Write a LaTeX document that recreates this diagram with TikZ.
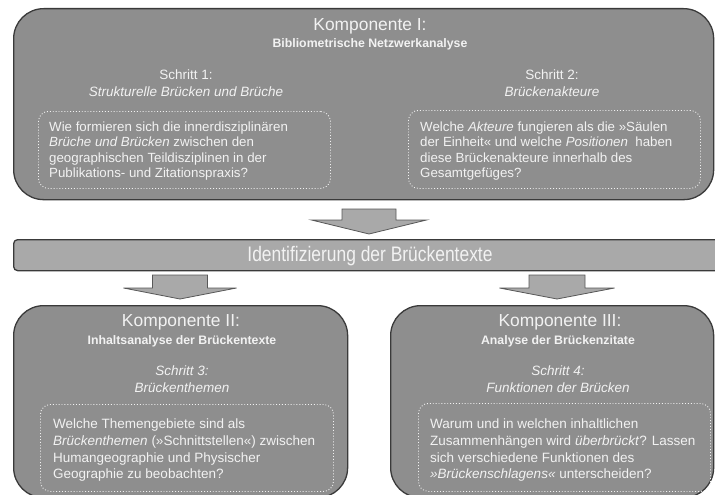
\documentclass[tikz,border=0pt]{standalone}
\usepackage{fontspec}
\setmainfont{Liberation Sans}
\newfontfamily\narrowfont[FakeStretch=0.83]{Liberation Sans}
\definecolor{boxgray}{HTML}{8E8E8E}
\definecolor{bargray}{HTML}{A9A9A9}
\definecolor{edgecol}{HTML}{3A3A3A}
\definecolor{txtcol}{HTML}{F2F2F2}
\newcommand{\blockarr}[6]{%
  \draw[blockarrow] ({#1-#2},#4) -- ({#1+#2},#4) -- ({#1+#2},#5) -- ({#1+#3},#5)
    -- (#1,#6) -- ({#1-#3},#5) -- ({#1-#2},#5) -- cycle;}
\tikzset{
  bigbox/.style={draw=edgecol, line width=1.3pt, fill=boxgray, rounded corners=30pt,
    inner sep=0pt, anchor=north west},
  barbox/.style={draw=edgecol, line width=1.3pt, fill=bargray, rounded corners=4pt,
    inner sep=0pt, anchor=north west},
  dotbox/.style={draw=txtcol, dotted, line width=0.9pt, rounded corners=10pt,
    inner sep=0pt, anchor=north west},
  blockarrow/.style={draw=edgecol!85, line width=0.8pt, fill=bargray, line join=miter},
  ttl/.style={text=txtcol, font=\fontsize{17.4}{20}\selectfont, anchor=base, inner sep=0pt},
  subttl/.style={text=txtcol, font=\bfseries\fontsize{12.3}{14}\selectfont, anchor=base, inner sep=0pt},
  stp/.style={text=txtcol, font=\fontsize{13.5}{16}\selectfont, anchor=base, inner sep=0pt},
  bodytop/.style={text=txtcol, font=\fontsize{13.3}{15.4}\selectfont, align=left,
    anchor=north west, inner sep=0pt},
  bodybot/.style={text=txtcol, font=\fontsize{13.5}{16.8}\selectfont, align=left,
    anchor=north west, inner sep=0pt},
}
\begin{document}
\begin{tikzpicture}[x=1pt,y=-1pt]
\useasboundingbox (0,0) rectangle (715,495);
% boxes
\node[bigbox, minimum width=700pt, minimum height=191pt] (k1) at (13,8) {};
\node[barbox, minimum width=720pt, minimum height=31pt] (bar) at (13,239) {};
\node[bigbox, minimum width=334pt, minimum height=192pt] (k2) at (13,305) {};
\node[bigbox, minimum width=323pt, minimum height=192pt] (k3) at (390,305) {};
% dotted inner boxes
\node[dotbox, minimum width=292pt, minimum height=77pt] (d1) at (38,111) {};
\node[dotbox, minimum width=292pt, minimum height=78pt] (d2) at (408,110) {};
\node[dotbox, minimum width=293pt, minimum height=87pt] (d3) at (40,404) {};
\node[dotbox, minimum width=292pt, minimum height=88pt] (d4) at (418,403) {};
% arrows
\blockarr{369}{27}{57.5}{209}{220}{234}
\blockarr{180}{27.5}{56.5}{275}{288}{299}
\blockarr{557}{28}{57.5}{275}{288}{299}
% component I
\node[ttl] (t1) at (370,31) {Komponente I:};
\node[subttl] (s1) at (370,48) {Bibliometrische Netzwerkanalyse};
\node[stp] (p1a) at (186,80) {Schritt 1:};
\node[stp] (p1b) at (186,96) {\itshape Strukturelle Brücken und Brüche};
\node[stp] (p2a) at (552,80) {Schritt 2:};
\node[stp] (p2b) at (552,96) {\itshape Brückenakteure};
\node[bodytop] (b1) at (49,121.5) {Wie formieren sich die innerdisziplinären\\
\textit{Brüche und Brücken} zwischen den\\
geographischen Teildisziplinen in der\\
Publikations- und Zitationspraxis?};
\node[bodytop] (b2) at (420,121.5) {Welche \textit{Akteure} fungieren als die »Säulen\\
der Einheit« und welche \textit{Positionen}\ \ haben\\
diese Brückenakteure innerhalb des\\
Gesamtgefüges?};
% bar
\node[text=txtcol, font=\narrowfont\fontsize{21}{23}\selectfont, anchor=base, inner sep=0pt]
  (bt) at (370,261) {Identifizierung der Brückentexte};
% component II
\node[ttl] (t2) at (181,326) {Komponente II:};
\node[subttl] (s2) at (182,344) {Inhaltsanalyse der Brückentexte};
\node[stp] (p3a) at (182,375) {\itshape Schritt 3:};
\node[stp] (p3b) at (182,392) {\itshape Brückenthemen};
\node[bodybot] (b3) at (53,418.5) {Welche Themengebiete sind als\\
\textit{Brückenthemen} (»Schnittstellen«) zwischen\\
Humangeographie und Physischer\\
Geographie zu beobachten?};
% component III
\node[ttl] (t3) at (560,326) {Komponente III:};
\node[subttl] (s3) at (558,344) {Analyse der Brückenzitate};
\node[stp] (p4a) at (558,375) {\itshape Schritt 4:};
\node[stp] (p4b) at (558,392) {\itshape Funktionen der Brücken};
\node[bodybot] (b4) at (430,418.5) {Warum und in welchen inhaltlichen\\
Zusammenhängen wird \textit{überbrückt}? Lassen\\
sich verschiedene Funktionen des\\
\textit{»Brückenschlagens«} unterscheiden?};
\end{tikzpicture}
\end{document}
